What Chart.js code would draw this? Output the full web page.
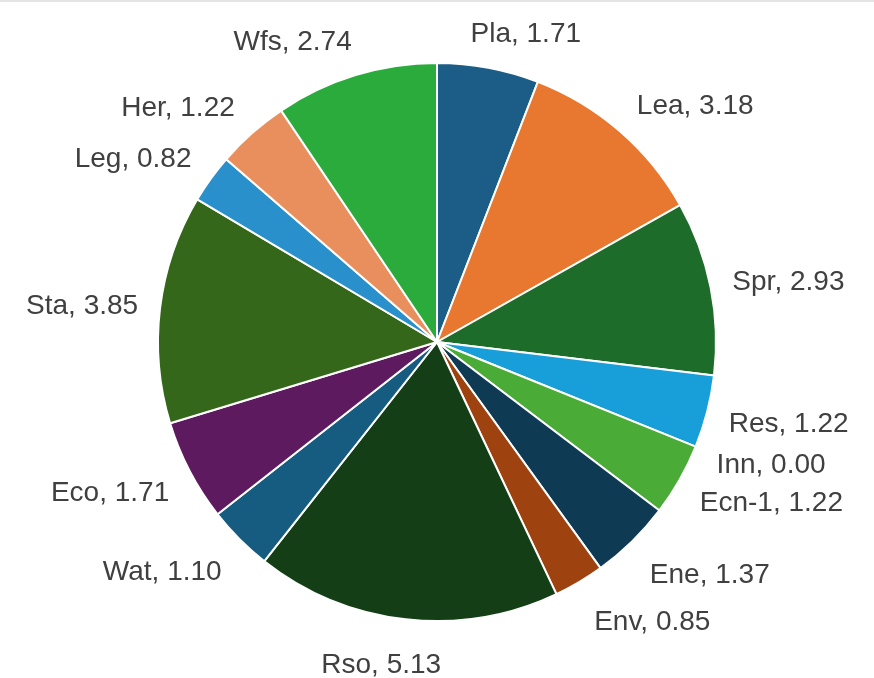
<!DOCTYPE html>
<html>
<head>
<meta charset="utf-8">
<script src="https://cdn.jsdelivr.net/npm/chart.js@4"></script>
<style>
html,body{margin:0;padding:0;background:#fff;}
#wrap{width:874px;height:678px;position:relative;}
</style>
</head>
<body>
<div id="wrap"><canvas id="c" width="874" height="678"></canvas></div>
<script>
const categories = ["Pla","Lea","Spr","Res","Inn","Ecn-1","Ene","Env","Rso","Wat","Eco","Sta","Leg","Her","Wfs"];
const values = [1.71,3.18,2.93,1.22,0.00,1.22,1.37,0.85,5.13,1.10,1.71,3.85,0.82,1.22,2.74];
const colors = ["#1b5d86","#e8772f","#1e6c2a","#189fd9","#3a8a2a","#4aac37","#0f3a54","#9e4210","#143f16","#165b80","#5d1a5e","#346719","#2a90cc","#e98f5e","#2aab3c"];

const labelPlugin = {
  id: 'outLabels',
  afterDraw(chart) {
    const ctx = chart.ctx;
    const meta = chart.getDatasetMeta(0);
    ctx.save();
    ctx.font = '28px "Liberation Sans", Arial, sans-serif';
    ctx.fillStyle = '#404040';
    ctx.textAlign = 'center';
    ctx.textBaseline = 'middle';
    meta.data.forEach((arc, i) => {
      const p = arc.getProps(['x','y','startAngle','endAngle','outerRadius'], true);
      const mid = (p.startAngle + p.endAngle) / 2;
      const cosA = Math.cos(mid), sinA = Math.sin(mid);
      const R = p.outerRadius + 14;
      const px = p.x + R * cosA, py = p.y + R * sinA;
      const txt = categories[i] + ', ' + values[i].toFixed(2);
      const w = ctx.measureText(txt).width;
      const hw = w / 2 + 8, hh = sinA > 0 ? 30 : 22;
      const fx = Math.max(-1, Math.min(1, cosA * 3));
      const cx = px + hw * fx;
      const cy = py + hh * sinA + 2;
      ctx.fillText(txt, cx, cy);
    });
    // faint top rule
    ctx.strokeStyle = '#e4e4e4';
    ctx.lineWidth = 2;
    ctx.beginPath();
    ctx.moveTo(0, 1);
    ctx.lineTo(chart.width, 1);
    ctx.stroke();
    ctx.restore();
  }
};

new Chart(document.getElementById('c'), {
  type: 'pie',
  data: {
    labels: categories,
    datasets: [{
      data: values,
      backgroundColor: colors,
      borderColor: '#ffffff',
      borderWidth: 2
    }]
  },
  options: {
    responsive: false,
    animation: false,
    layout: { padding: { top: 62, bottom: 56, left: 0, right: 0 } },
    plugins: {
      legend: { display: false },
      tooltip: { enabled: false }
    }
  },
  plugins: [labelPlugin]
});
</script>
</body>
</html>
